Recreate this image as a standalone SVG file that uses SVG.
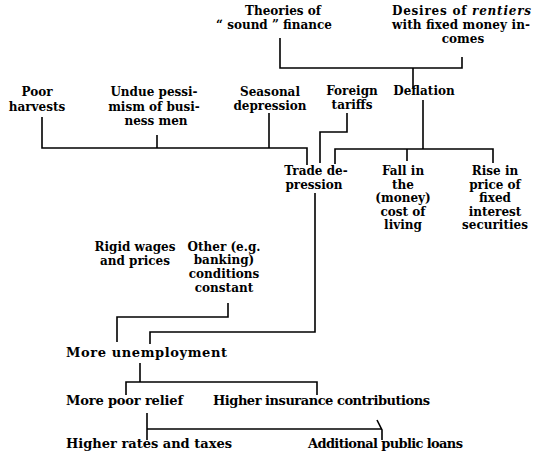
<svg xmlns="http://www.w3.org/2000/svg" width="533" height="463" viewBox="0 0 533 463">
<style>
text{font-family:"DejaVu Serif","Liberation Serif",serif;font-weight:bold;font-size:12px;fill:#000}
.m{text-anchor:middle}
.b{font-size:13px}
.c path{fill:none;stroke:#000;stroke-width:1.6}
</style>
<rect width="533" height="463" fill="#fff"/>
<g class="c" id="connectors">
<path d="M280,38 V68 H462 V57"/>
<path d="M413,68 V88"/>
<path d="M423,100 V149"/>
<path d="M335,164 V149 H493 V163"/>
<path d="M407,149 V161"/>
<path d="M42,117 V148 H307 V165"/>
<path d="M157,135 V148"/>
<path d="M269,113 V148"/>
<path d="M347,113 V132 H320 V163"/>
<path d="M315,193 V332 H150 V344"/>
<path d="M228,303 V317 H117 V342"/>
<path d="M140,363 V382"/>
<path d="M126,395 V382 H317 V395"/>
<path d="M147,413 V440"/>
<path d="M147,429 H382"/>
<path d="M377,420 L382,430 V440"/>
</g>
<g id="theories"><text class="m" x="283" y="15">Theories of</text><text class="m" x="274" y="29">“ sound ” finance</text></g>
<g id="desires"><text x="392" y="15" textLength="139" lengthAdjust="spacing">Desires of <tspan font-style="italic">rentiers</tspan></text><text x="392" y="29" textLength="138" lengthAdjust="spacing">with fixed money in-</text><text class="m" x="463" y="43">comes</text></g>
<g id="poor"><text class="m" x="37" y="96">Poor</text><text class="m" x="37" y="111">harvests</text></g>
<g id="undue"><text class="m" x="154" y="96">Undue pessi-</text><text class="m" x="154" y="111">mism of busi-</text><text class="m" x="156" y="125">ness men</text></g>
<g id="seasonal"><text class="m" x="270" y="96">Seasonal</text><text class="m" x="270" y="110">depression</text></g>
<g id="foreign"><text class="m" x="352" y="95">Foreign</text><text class="m" x="352" y="109">tariffs</text></g>
<g id="deflation"><text class="m" x="424" y="95">Deflation</text></g>
<g id="trade"><text class="m" x="316" y="175">Trade de-</text><text class="m" x="314" y="189">pression</text></g>
<g id="fall"><text class="m" x="403" y="175">Fall in</text><text class="m" x="403" y="188.5">the</text><text class="m" x="403" y="202">(money)</text><text class="m" x="403" y="215.5">cost of</text><text class="m" x="403" y="229">living</text></g>
<g id="rise"><text class="m" x="495" y="175">Rise in</text><text class="m" x="495" y="188.5">price of</text><text class="m" x="495" y="202">fixed</text><text class="m" x="495" y="215.5">interest</text><text class="m" x="495" y="229">securities</text></g>
<g id="rigid"><text class="m" x="135" y="251">Rigid wages</text><text class="m" x="135" y="265">and prices</text></g>
<g id="other"><text class="m" x="224" y="251">Other (e.g.</text><text class="m" x="224" y="264">banking)</text><text class="m" x="224" y="278">conditions</text><text class="m" x="224" y="292">constant</text></g>
<g id="unemployment"><text class="b" x="66" y="357" textLength="161" lengthAdjust="spacing">More unemployment</text></g>
<g id="relief"><text class="b" x="66" y="405" textLength="117" lengthAdjust="spacing">More poor relief</text></g>
<g id="insurance"><text class="b" x="213" y="405" textLength="217" lengthAdjust="spacing">Higher insurance contributions</text></g>
<g id="rates"><text class="b" x="66" y="448" textLength="166" lengthAdjust="spacing">Higher rates and taxes</text></g>
<g id="loans"><text class="b" x="308" y="448" textLength="155" lengthAdjust="spacing">Additional public loans</text></g>
</svg>
